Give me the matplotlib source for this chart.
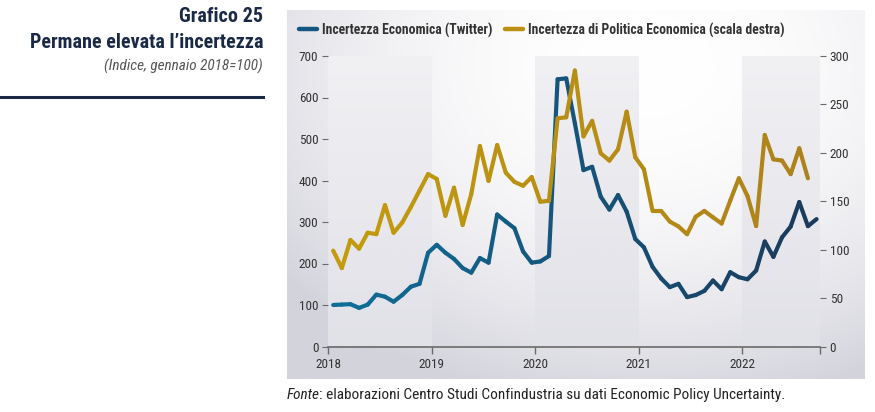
import numpy as np
import matplotlib
matplotlib.use("Agg")
import matplotlib.pyplot as plt
from matplotlib.collections import LineCollection
from matplotlib.colors import to_rgb
from matplotlib.lines import Line2D

twitter = [100, 101, 102, 93, 101, 125, 120, 108, 124, 144, 151, 226,
           245, 226, 211, 189, 178, 213, 202, 318, 301, 285, 229, 202,
           205, 218, 644, 646, 538, 425, 433, 361, 330, 365, 325, 259,
           239, 192, 164, 143, 151, 119, 124, 134, 159, 138, 179, 167,
           162, 183, 253, 216, 263, 289, 348, 290, 307]
epu = [99, 81, 110, 101, 117.5, 116, 146, 117.5, 128, 144, 161, 178,
       173, 135, 164, 125.5, 157.5, 207, 171, 208, 179.5, 170, 166, 175,
       149.5, 150.5, 235.7, 236.7, 285, 217, 233, 199.5, 192, 203.6, 242.5, 195.4,
       183, 140, 140, 129, 124, 116, 134, 140, 133.4, 127, 150.6, 173.7,
       155.4, 124.4, 218.4, 193.3, 192, 178, 204.7, 173.7]
year_ticks = [2018, 2019, 2020, 2021, 2022]
year_labels = ["2018", "2019", "2020", "2021", "2022"]
left_ticks = [0, 100, 200, 300, 400, 500, 600, 700]
right_ticks = [0, 50, 100, 150, 200, 250, 300]

title1 = "Grafico 25"
title2 = "Permane elevata l\u2019incertezza"
subtitle = "(Indice, gennaio 2018=100)"
leg1 = "Incertezza Economica (Twitter)"
leg2 = "Incertezza di Politica Economica (scala destra)"
source_it = "Fonte"
source_rest = ": elaborazioni Centro Studi Confindustria su dati Economic Policy Uncertainty."

FONT = ["Roboto Condensed", "Roboto", "DejaVu Sans"]
W, H = 875, 412
fig = plt.figure(figsize=(W / 100, H / 100), dpi=100)


def fx(px):
    return px / W


def fy(py):
    return 1 - py / H


# panel background gradient
pan = fig.add_axes([fx(287), fy(379), fx(864 - 287), (379 - 10) / H], zorder=0)
gx = np.linspace(0, 1, 300)
gy = np.linspace(0, 1, 150)
XX, YY = np.meshgrid(gx, gy)
d = np.clip(np.sqrt(((XX - 0.62) * 1.0) ** 2 + ((YY - 0.15) * 0.85) ** 2) / 0.8, 0, 1)
c0 = np.array(to_rgb("#ffffff"))
c1 = np.array(to_rgb("#d3d3dc"))
img = c0 + (c1 - c0) * (d[..., None] ** 2.0)
pan.imshow(img, aspect="auto", extent=[0, 1, 1, 0], interpolation="bilinear")
pan.set_axis_off()

ax = fig.add_axes([fx(328), fy(346.5), fx(820 - 328), (346.5 - 56) / H], zorder=2)
ax.patch.set_alpha(0)
ax2 = ax.twinx()
ax2.patch.set_alpha(0)

x_tw = 2018 + (np.arange(len(twitter)) + 0.6) / 12
x_epu = 2018 + (np.arange(len(epu)) + 0.6) / 12

# year bands
for y0, y1 in [(2018, 2019), (2020, 2021), (2022, 2022.75)]:
    grad = np.linspace(0, 1, 100)[:, None]
    ctop = np.array(to_rgb("#f1f1f4"))
    cbot = np.array(to_rgb("#e1e1e8"))
    bimg = ctop + (cbot - ctop) * grad[..., None]
    bimg = np.repeat(bimg, 2, axis=1)
    ax.imshow(bimg, aspect="auto", extent=[y0, y1, 0, 700], zorder=0.5,
              interpolation="bilinear")


def grad_line(axis, x, y, ca, cb, lw):
    pts = np.column_stack([x, y]).reshape(-1, 1, 2)
    segs = np.concatenate([pts[:-1], pts[1:]], axis=1)
    t = np.linspace(0, 1, len(segs))[:, None]
    a, b = np.array(to_rgb(ca)), np.array(to_rgb(cb))
    cols = a + (b - a) * t
    lc = LineCollection(segs, colors=cols, linewidths=lw, capstyle="round",
                        joinstyle="round", zorder=3)
    axis.add_collection(lc)


grad_line(ax2, x_epu, epu, "#c39b0c", "#ad821c", 3.0)
grad_line(ax, x_tw, twitter, "#0f6e98", "#1b3a5c", 3.0)

ax.set_xlim(2018, 2022.75)
ax.set_ylim(0, 700)
ax2.set_ylim(0, 300)
ax.set_xticks(year_ticks + [2022.75])
ax.set_xticklabels(year_labels + [""])
ax.set_yticks(left_ticks)
ax2.set_yticks(right_ticks)
tc = "#333333"
for a in (ax, ax2):
    for s in a.spines.values():
        s.set_visible(False)
ax.spines["bottom"].set_visible(True)
ax.spines["bottom"].set_color("#6a6a6a")
ax.spines["bottom"].set_linewidth(1.2)
ax.tick_params(axis="x", length=5, width=1, color="#6a6a6a", labelsize=9.5,
               labelcolor=tc, pad=3)
ax.tick_params(axis="y", length=4, width=0.8, color="#6a6a6a", labelsize=9.5,
               labelcolor=tc, pad=3)
ax2.tick_params(axis="y", length=4, width=0.8, color="#6a6a6a", labelsize=9.5,
                labelcolor=tc, pad=3)
for lab in ax.get_xticklabels() + ax.get_yticklabels() + ax2.get_yticklabels():
    lab.set_family(FONT)

# legend
handles = [Line2D([], [], color="#155582", lw=3.2, solid_capstyle="round"),
           Line2D([], [], color="#b98f14", lw=3.2, solid_capstyle="round")]
fig.legend(handles, [leg1, leg2], loc="center left",
           bbox_to_anchor=(fx(299), fy(30)), ncol=2, frameon=False,
           handlelength=1.3, handletextpad=0.4, columnspacing=0.9,
           borderaxespad=0, borderpad=0,
           prop={"family": FONT, "weight": "bold", "size": 9.8},
           labelcolor="#333333")

navy = "#1a2a46"
fig.text(fx(263), fy(17), title1, ha="right", va="center", family=FONT,
         weight="bold", size=14.5, color=navy)
fig.text(fx(263), fy(42), title2, ha="right", va="center", family=FONT,
         weight="bold", size=14.5, color=navy)
fig.text(fx(263), fy(66), subtitle, ha="right", va="center", family=FONT,
         style="italic", size=11, color="#555555")
fig.add_artist(Line2D([0, fx(263)], [fy(97), fy(97)], color=navy, lw=2.2))

t = fig.text(fx(287), fy(395), source_it, ha="left", va="center", family=FONT,
             style="italic", size=11, color="#222222")
fig.canvas.draw()
bb = t.get_window_extent()
fig.text((bb.x1 - 1) / W, fy(395), source_rest, ha="left", va="center",
         family=FONT, size=11, color="#222222")

fig.savefig("out.png", dpi=100)
